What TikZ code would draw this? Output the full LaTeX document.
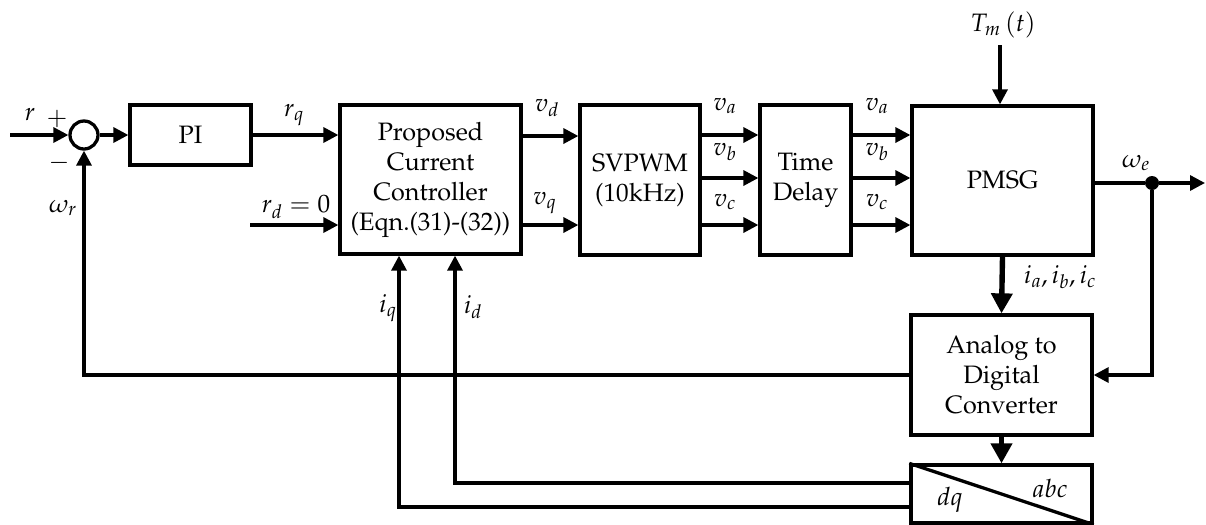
\documentclass[tikz,border=0pt]{standalone}
\usepackage[T1]{fontenc}
\usepackage{amsmath,mathpazo}
\usetikzlibrary{arrows.meta}
\newcommand{\mainfnt}{\fontsize{21.5}{25.6}\selectfont}

\begin{document}
\begin{tikzpicture}[x=0.03cm,y=-0.03cm,
  block/.style={draw,line width=2.8pt,inner sep=0pt,align=center,font=\mainfnt},
  sumnode/.style={draw,circle,line width=2.8pt,inner sep=0pt,minimum size=0.84cm},
  wire/.style={line width=2.8pt},
  sig/.style={line width=2.8pt,-{Triangle[length=0.45cm,width=0.45cm]}},
  bus/.style={line width=4.6pt,-{Triangle[length=0.6cm,width=0.62cm]}},
  lbl/.style={font=\mainfnt,inner sep=0pt}]
\useasboundingbox (0,0) rectangle (1206,524);
% blocks
\node[sumnode] (sum) at (84,135) {};
\node[block,minimum width=3.63cm,minimum height=1.8cm] (pi) at (190.5,135) {PI};
\node[block,minimum width=5.43cm,minimum height=4.47cm] (ctrl) at (430.5,179.5) {Proposed\\Current\\Controller\\(Eqn.(31)-(32))};
\node[block,minimum width=3.6cm,minimum height=4.5cm] (svpwm) at (640,180) {SVPWM\\(10kHz)};
\node[block,minimum width=2.73cm,minimum height=4.5cm] (delay) at (805.5,180) {Time\\Delay};
\node[block,minimum width=5.43cm,minimum height=4.47cm] (pmsg) at (1002.5,180.5) {PMSG};
\node[block,minimum width=5.43cm,minimum height=3.6cm] (adc) at (1001.5,375) {Analog to\\Digital\\Converter};
\node[block,minimum width=5.43cm,minimum height=1.74cm] (dq) at (1001.5,494) {};
\draw[wire] (dq.north west) -- (dq.south east);
\node[lbl] (labc) at (1050,488) {$abc$};
\node[lbl] (ldq) at (950,500) {$dq$};
% reference and speed loop
\coordinate (in) at (10,135);
\draw[sig] (in) -- (sum.west);
\node[lbl] (lr) at (30,115) {$r$};
\node[lbl] (lplus) at (57,119) {$+$};
\node[lbl] (lminus) at (59,163) {$-$};
\draw[sig] (sum.east) -- (pi.west);
\draw[sig] (pi.east) -- (pi.east -| ctrl.west);
\node[lbl] (lrq) at (294,115) {$r_q$};
\coordinate (rd) at (250,225);
\draw[sig] (rd) -- (rd -| ctrl.west);
\node[lbl] (lrd) at (296,207) {$r_d=0$};
% controller outputs
\draw[sig] (ctrl.east |- 0,136) -- (svpwm.west |- 0,136);
\draw[sig] (ctrl.east |- 0,225) -- (svpwm.west |- 0,225);
\node[lbl] (lvd) at (547,108) {$v_d$};
\node[lbl] (lvq) at (545,203) {$v_q$};
% three phase voltages
\foreach \yy/\nm/\ly in {135/a/106,178/b/152,225/c/202} {
  \draw[sig] (svpwm.east |- 0,\yy) -- (delay.west |- 0,\yy);
  \draw[sig] (delay.east |- 0,\yy) -- (pmsg.west |- 0,\yy);
  \node[lbl] (lva\nm) at (725,\ly) {$v_\nm$};
  \node[lbl] (lvb\nm) at (877,\ly) {$v_\nm$};
}
% torque input
\coordinate (tm) at (1000,45);
\node[lbl] (ltm) at (1003,25) {$T_m\left(t\right)$};
\draw[sig] (tm) -- (tm |- pmsg.north);
% speed output and feedback
\node[circle,fill,inner sep=0pt,minimum size=0.42cm] (dot) at (1152,183) {};
\coordinate (out) at (1205,183);
\draw[wire] (pmsg.east |- dot) -- (dot);
\draw[sig] (dot) -- (out);
\node[lbl] (lwe) at (1136,163) {$\omega_e$};
\draw[sig] (dot) |- (adc.east);
\draw[sig] (adc.west) -| (sum.south);
\node[lbl] (lwr) at (63,208) {$\omega_r$};
% currents
\draw[bus] (pmsg.south) -- (adc.north);
\node[lbl] (liabc) at (1060,277) {$i_a,i_b,i_c$};
\draw[bus] (adc.south) -- (dq.north);
\coordinate (iq) at (399,507);
\coordinate (id) at (455,483);
\draw[sig] (dq.west |- iq) -- (iq) -- (iq |- ctrl.south);
\draw[sig] (dq.west |- id) -- (id) -- (id |- ctrl.south);
\node[lbl] (liq) at (388,308) {$i_q$};
\node[lbl] (lid) at (473,307) {$i_d$};
\end{tikzpicture}
\end{document}
